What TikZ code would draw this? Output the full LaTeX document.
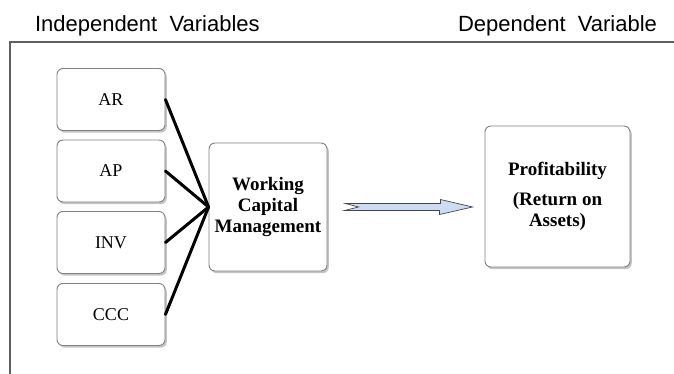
\documentclass[tikz,border=0pt]{standalone}
\usepackage{fontspec}
\setmainfont{Liberation Serif}
\newfontfamily\headfont{Liberation Sans}
\usetikzlibrary{shadows,calc}
\begin{document}
\begin{tikzpicture}[x=1pt,y=-1pt,
  varbox/.style={draw=boxColor,line width=0.9pt,rounded corners=6pt,fill=white,
    drop shadow={shadow xshift=1.8pt,shadow yshift=-2.2pt,opacity=0.45},
    inner sep=0pt,align=center,font=\fontsize{18}{21}\selectfont},
  boldbox/.style={varbox,font=\fontsize{19}{21}\selectfont\bfseries},
  headtext/.style={anchor=base west,inner sep=0pt,outer sep=0pt,font=\headfont\fontsize{22}{26}\selectfont},
  link/.style={line width=3pt,line cap=round}]
\definecolor{boxColor}{RGB}{130,130,130}
\definecolor{frameColor}{RGB}{95,95,95}
\definecolor{arrowFill}{RGB}{205,220,240}
\definecolor{arrowEdge}{RGB}{70,70,80}
\path[use as bounding box,fill=white] (0,0) rectangle (674,374);

% headings and frame
\node[headtext] (indep) at ( 35, 32) {Independent\ \ Variables};
\node[headtext] (dep) at (458, 32) {Dependent\ \ Variable};
\path[draw=frameColor,line width=1.2pt] (674, 42) -- ( 10, 42) -- ( 10,374);

% independent variables
\node[varbox,minimum width=108pt,minimum height=62pt] (ar) at (111, 99.5) {AR};
\node[varbox,minimum width=108pt,minimum height=62pt] (ap) at (111,171.0) {AP};
\node[varbox,minimum width=108pt,minimum height=62pt] (inv) at (111,242.5) {INV};
\node[varbox,minimum width=108pt,minimum height=62pt] (ccc) at (111,314.5) {CCC};

% working capital and profitability
\node[boldbox,minimum width=118pt,minimum height=128pt] (wcm) at (268,207) {Working\\Capital\\Management};
\node[boldbox,minimum width=145pt,minimum height=141pt] (prof) at (557.5,196.5) {Profitability\\[9pt](Return on\\Assets)};

\draw[link] (ar.east) -- (wcm.west);
\draw[link] (ap.east) -- (wcm.west);
\draw[link] (inv.east) -- (wcm.west);
\draw[link] (ccc.east) -- (wcm.west);

% block arrow
\coordinate (tail) at ($(wcm.east)+(18,0)$);
\coordinate (tip) at ($(prof.west)+(-12,10.5)$);
\draw[draw=arrowEdge,fill=arrowFill,line width=0.7pt,line join=miter]
  (tail) ++(0,-3.5) -- ++(95,0) -- ++(0,-4) -- (tip) -- ++(-33,7.5) -- ++(0,-4)
  -- ++(-95,0) -- ++(14,-3.5) -- cycle;
\end{tikzpicture}
\end{document}
